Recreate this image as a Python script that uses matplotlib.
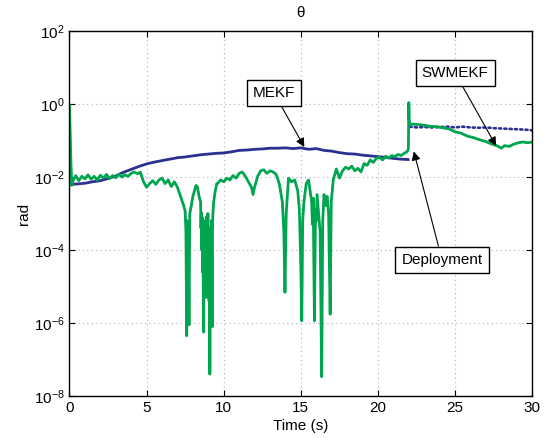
import numpy as np
import matplotlib
matplotlib.use('Agg')
import matplotlib.pyplot as plt
from matplotlib.ticker import FixedLocator, NullLocator, LogFormatterSciNotation

plt.rcParams['font.family'] = ['Liberation Sans', 'DejaVu Sans']
plt.rcParams['font.size'] = 11

# MEKF error (log10 rad)
mekf_t = [0.0, 0.5, 1.0, 1.5, 2.0, 2.5, 3.0, 3.5, 4.0, 4.5, 5.0, 5.5, 6.0, 6.5,
          7.0, 7.5, 8.0, 8.5, 9.0, 9.5, 10.0, 10.5, 11.0, 11.5, 12.0, 12.5,
          13.0, 13.5, 14.0, 14.5, 15.0, 15.5, 16.0, 16.5, 17.0, 17.5, 18.0,
          18.5, 19.0, 19.5, 20.0, 20.5, 21.0, 21.5, 21.95,
          22.05, 22.5, 23.0, 23.5, 24.0, 24.5, 25.0, 25.5, 26.0, 26.5, 27.0,
          27.5, 28.0, 28.5, 29.0, 29.5, 30.0]
mekf_log = [-2.20, -2.19, -2.17, -2.13, -2.10, -2.04, -1.97, -1.87, -1.79, -1.71,
            -1.64, -1.59, -1.55, -1.51, -1.47, -1.45, -1.42, -1.39, -1.37, -1.35,
            -1.34, -1.31, -1.27, -1.26, -1.24, -1.23, -1.21, -1.21, -1.20, -1.22,
            -1.20, -1.24, -1.22, -1.27, -1.29, -1.33, -1.36, -1.37, -1.40, -1.42,
            -1.44, -1.46, -1.49, -1.51, -1.52,
            -0.62, -0.64, -0.63, -0.64, -0.63, -0.62, -0.64, -0.62, -0.64, -0.65,
            -0.64, -0.66, -0.67, -0.68, -0.69, -0.70, -0.72]

# SWMEKF error (log10 rad)
sw_t = [0.0, 0.05, 0.1, 0.15,
        0.2, 0.4, 0.6, 0.8, 1.0, 1.2, 1.4, 1.6, 1.8, 2.0, 2.2, 2.4, 2.6, 2.8,
        3.0, 3.2, 3.4, 3.6, 3.8, 4.0, 4.2, 4.4, 4.6, 4.8, 5.0, 5.2, 5.4, 5.6,
        5.8, 6.0, 6.2, 6.4, 6.6, 6.8, 7.0, 7.2, 7.4,
        7.5, 7.55, 7.6, 7.65, 7.7, 7.75, 7.8, 7.9, 8.0, 8.1, 8.2, 8.3, 8.4,
        8.5, 8.525, 8.55, 8.575, 8.6, 8.625, 8.65, 8.675, 8.7, 8.725, 8.75,
        8.775, 8.8, 8.825, 8.85, 8.875, 8.9, 8.925, 8.95, 8.975, 9.0, 9.025,
        9.05, 9.075, 9.1, 9.125, 9.15, 9.175, 9.2, 9.225, 9.25, 9.275, 9.3,
        9.35, 9.45, 9.55,
        9.6, 9.8, 10.0, 10.2, 10.4, 10.6, 10.8, 11.0, 11.2, 11.4, 11.6, 11.8,
        11.9, 12.0, 12.2, 12.4, 12.6, 12.8, 13.0, 13.2, 13.4, 13.6, 13.8,
        13.9, 13.97, 14.05, 14.2, 14.4, 14.6, 14.8, 14.9, 14.95, 15.0, 15.06,
        15.12, 15.2, 15.35, 15.5, 15.6, 15.7, 15.75, 15.8, 15.88, 15.95, 16.0,
        16.05, 16.15, 16.25, 16.35, 16.42, 16.5, 16.6, 16.7, 16.8, 16.9,
        16.97, 17.1, 17.3,
        17.5, 17.7, 17.9, 18.1, 18.3, 18.5, 18.7, 18.9, 19.1, 19.3, 19.5,
        19.7, 19.9, 20.1, 20.3, 20.5, 20.7, 20.9, 21.1, 21.3, 21.5, 21.7,
        21.9, 21.97, 22.0, 22.02, 22.05,
        22.2, 22.6, 23.0, 23.4, 23.8, 24.2, 24.6, 25.0, 25.4, 25.8, 26.2,
        26.6, 27.0, 27.4, 27.7, 28.0, 28.2, 28.5, 28.8, 29.1, 29.4, 29.7, 30.0]
sw_log = [-0.03, -0.88, -1.68, -2.23,
          -2.13, -1.96, -2.10, -1.98, -2.05, -1.94, -2.06, -1.98, -2.08, -1.95,
          -2.03, -1.93, -2.04, -1.96, -2.02, -1.92, -2.00, -1.94, -1.98, -1.90,
          -1.86, -1.91, -1.87, -2.13, -2.28, -2.18, -2.10, -2.20, -2.08, -2.03,
          -2.18, -2.08, -2.26, -2.13, -2.28, -2.53, -2.78,
          -2.93, -3.50, -6.35, -3.20, -3.80, -6.05, -3.00, -2.78, -2.53, -2.38,
          -2.23, -2.28, -2.53,
          -2.68, -3.40, -2.98, -4.00, -3.10, -4.60, -3.30, -5.20, -6.25, -3.60,
          -5.00, -3.20, -4.80, -3.50, -5.30, -3.10, -4.40, -3.40, -5.10, -3.00,
          -4.90, -3.60, -5.40, -4.20, -7.40, -4.50, -3.40, -5.00, -3.20, -4.30,
          -6.10, -3.40, -2.98, -2.68, -2.38, -2.18,
          -2.18, -2.08, -2.13, -2.03, -2.08, -1.96, -2.03, -1.90, -1.86, -1.98,
          -2.13, -2.28, -2.48, -2.28, -1.98, -1.83, -1.80, -1.90, -1.83, -1.86,
          -1.93, -2.18, -2.68,
          -3.50, -5.16, -3.00, -2.03, -2.13, -2.08, -2.38, -2.88, -3.60, -4.50,
          -5.94, -3.20, -2.68, -2.18, -2.08, -2.38, -2.68, -3.30, -2.58, -5.94,
          -2.88, -3.20, -2.48, -2.98, -3.50, -7.47, -3.20, -2.48, -2.78, -2.53,
          -3.00, -5.76, -2.68, -2.08, -1.78,
          -2.03, -1.83, -1.73, -1.78, -1.70, -1.83, -1.76, -1.86, -1.63, -1.68,
          -1.53, -1.60, -1.48, -1.46, -1.53, -1.43, -1.48, -1.41, -1.44, -1.38,
          -1.41, -1.35, -1.30, -1.23, 0.04, -0.38, -0.56,
          -0.55, -0.56, -0.58, -0.61, -0.62, -0.65, -0.68, -0.76, -0.80, -0.88,
          -0.92, -0.98, -1.03, -1.10, -1.14, -1.21, -1.14, -1.16, -1.10, -1.06,
          -1.04, -1.06, -1.04]

deploy_t = 22.0

blue = '#2b3190'
green = '#00a550'

mekf_t = np.array(mekf_t)
mekf_v = 10 ** np.array(mekf_log)
sw_v = 10 ** np.array(sw_log)

fig = plt.figure(figsize=(5.47, 4.38), dpi=100)
ax = fig.add_axes([0.127, 0.096, 0.846, 0.833])

pre = mekf_t < deploy_t
post = mekf_t > deploy_t
ax.plot(mekf_t[pre], mekf_v[pre], color=blue, lw=2.0)
ax.plot(mekf_t[post], mekf_v[post], color=blue, lw=1.9,
        linestyle=(0, (0.8, 1.2)), dash_capstyle='round')
ax.plot(sw_t, sw_v, color=green, lw=2.0)

ax.set_yscale('log')
ax.set_xlim(0, 30)
ax.set_ylim(1e-8, 1e2)
ax.set_xticks(range(0, 31, 5))
ax.yaxis.set_major_locator(FixedLocator([1e-8, 1e-6, 1e-4, 1e-2, 1e0, 1e2]))
ax.yaxis.set_major_formatter(LogFormatterSciNotation())
ax.yaxis.set_minor_locator(NullLocator())
ax.tick_params(direction='in', top=True, right=True, length=4, width=0.8,
               labelsize=11)
ax.grid(True, color='#b0b0b0', linestyle=(0, (1, 3)), lw=0.8)
for s in ax.spines.values():
    s.set_linewidth(1.0)

ax.set_title('θ', fontsize=11, pad=10)
ax.set_xlabel('Time (s)', fontsize=11, labelpad=3)
ax.set_ylabel('rad', fontsize=11, labelpad=2)

box = dict(boxstyle='square,pad=0.4', fc='white', ec='black', lw=1.0)
arr = dict(arrowstyle='-|>', color='black', lw=0.8, mutation_scale=13,
           shrinkA=0, shrinkB=1)
ax.annotate('MEKF', xy=(15.27, 10 ** -1.21), xytext=(13.26, 10 ** 0.30),
            ha='center', va='center', fontsize=11, bbox=box, arrowprops=arr)
ax.annotate('SWMEKF', xy=(27.7, 10 ** -1.18), xytext=(25.0, 10 ** 0.85),
            ha='center', va='center', fontsize=11, bbox=box, arrowprops=arr)
ax.annotate('Deployment', xy=(22.3, 10 ** -1.26), xytext=(24.15, 10 ** -4.27),
            ha='center', va='center', fontsize=11, bbox=box, arrowprops=arr)

fig.savefig('out.png', dpi=100)
